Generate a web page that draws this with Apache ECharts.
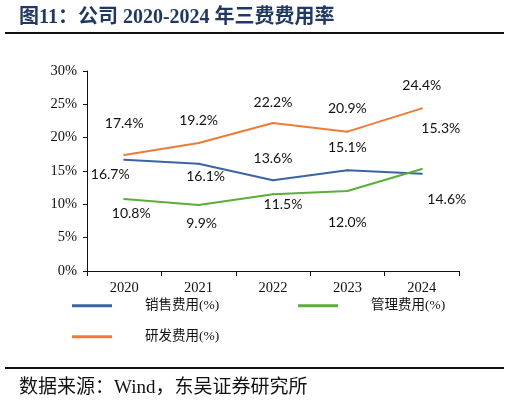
<!DOCTYPE html>
<html>
<head>
<meta charset="utf-8">
<script src="https://cdn.jsdelivr.net/npm/echarts@6/dist/echarts.min.js"></script>
<style>
html, body { margin: 0; padding: 0; background: #fff; }
#main { width: 510px; height: 402px; }
</style>
</head>
<body>
<div id="main"></div>
<script>
var years = ['2020', '2021', '2022', '2023', '2024'];
var sales = [16.7, 16.1, 13.6, 15.1, 14.6];
var admin = [10.8, 9.9, 11.5, 12.0, 15.3];
var rnd = [17.4, 19.2, 22.2, 20.9, 24.4];
var yTicks = [0, 5, 10, 15, 20, 25, 30];

// label offsets from the point
var salesOff = [[-14, 15], [7, 13], [0, -22], [0, -23], [25, 26]];
var adminOff = [[7, 14], [3, 18], [10, 10], [0, 31], [19, -41]];
var rndOff = [[0, -32], [0, -23], [0, -21], [0, -23], [0, -23]];

var serif = '"Times New Roman", "Liberation Serif", "Noto Sans CJK SC", serif';
var labelFont = 'Lato, "Noto Sans", sans-serif';
var dot = 2;

function withLabels(values, offs) {
    return values.map(function (v, i) {
        return {
            value: v,
            label: {
                position: [dot / 2 + offs[i][0], dot / 2 + offs[i][1]],
                align: 'center',
                verticalAlign: 'middle'
            }
        };
    });
}

function line(name, color, values, offs) {
    return {
        name: name,
        type: 'line',
        data: withLabels(values, offs),
        symbol: 'circle',
        symbolSize: dot,
        showSymbol: true,
        lineStyle: { color: color, width: 2 },
        itemStyle: { color: color },
        label: {
            show: true,
            formatter: function (p) { return p.value.toFixed(1) + '%'; },
            color: '#111',
            fontSize: 14,
            fontFamily: labelFont
        },
        labelLayout: { hideOverlap: false },
        animation: false
    };
}

function legendAt(name, left, top) {
    return {
        data: [name],
        left: left,
        top: top,
        itemWidth: 40,
        itemHeight: 3,
        icon: 'rect',
        textStyle: { fontFamily: serif, fontSize: 13.5, color: '#111', padding: [0, 0, 0, 28] }
    };
}

var myChart = echarts.init(document.getElementById('main'));

var option = {
    backgroundColor: '#fff',
    animation: false,
    title: [{
        text: '图11：公司 2020-2024 年三费费用率',
        left: 14,
        top: 3,
        textStyle: { fontFamily: serif, fontSize: 20, fontWeight: 'bold', color: '#1f3864' }
    }, {
        text: '数据来源：Wind，东吴证券研究所',
        left: 14,
        top: 374,
        textStyle: { fontFamily: serif, fontSize: 19, fontWeight: 'normal', color: '#111' }
    }],
    graphic: [
        { type: 'line', shape: { x1: 5, y1: 33, x2: 504, y2: 33 }, style: { stroke: '#111', lineWidth: 2 } },
        { type: 'line', shape: { x1: 5, y1: 368, x2: 504, y2: 368 }, style: { stroke: '#111', lineWidth: 2 } }
    ],
    legend: [
        legendAt('销售费用(%)', 67, 294),
        legendAt('管理费用(%)', 293, 294),
        legendAt('研发费用(%)', 67, 325)
    ],
    grid: { left: 87, right: 51, top: 71, bottom: 131 },
    xAxis: {
        type: 'category',
        data: years,
        boundaryGap: true,
        axisLine: { lineStyle: { color: '#111', width: 1 } },
        axisTick: { show: true, length: 5, lineStyle: { color: '#111' } },
        axisLabel: { fontFamily: serif, fontSize: 14.5, color: '#111', margin: 10 }
    },
    yAxis: {
        type: 'value',
        min: yTicks[0],
        max: yTicks[yTicks.length - 1],
        interval: 5,
        splitLine: { show: false },
        axisLine: { show: true, lineStyle: { color: '#111', width: 1 } },
        axisTick: { show: true, length: 4, lineStyle: { color: '#111' } },
        axisLabel: { fontFamily: serif, fontSize: 14.5, color: '#111', margin: 10, formatter: '{value}%' }
    },
    series: [
        line('销售费用(%)', '#3c64a2', sales, salesOff),
        line('管理费用(%)', '#5aae3a', admin, adminOff),
        line('研发费用(%)', '#f07b37', rnd, rndOff)
    ]
};

myChart.setOption(option);
</script>
</body>
</html>
